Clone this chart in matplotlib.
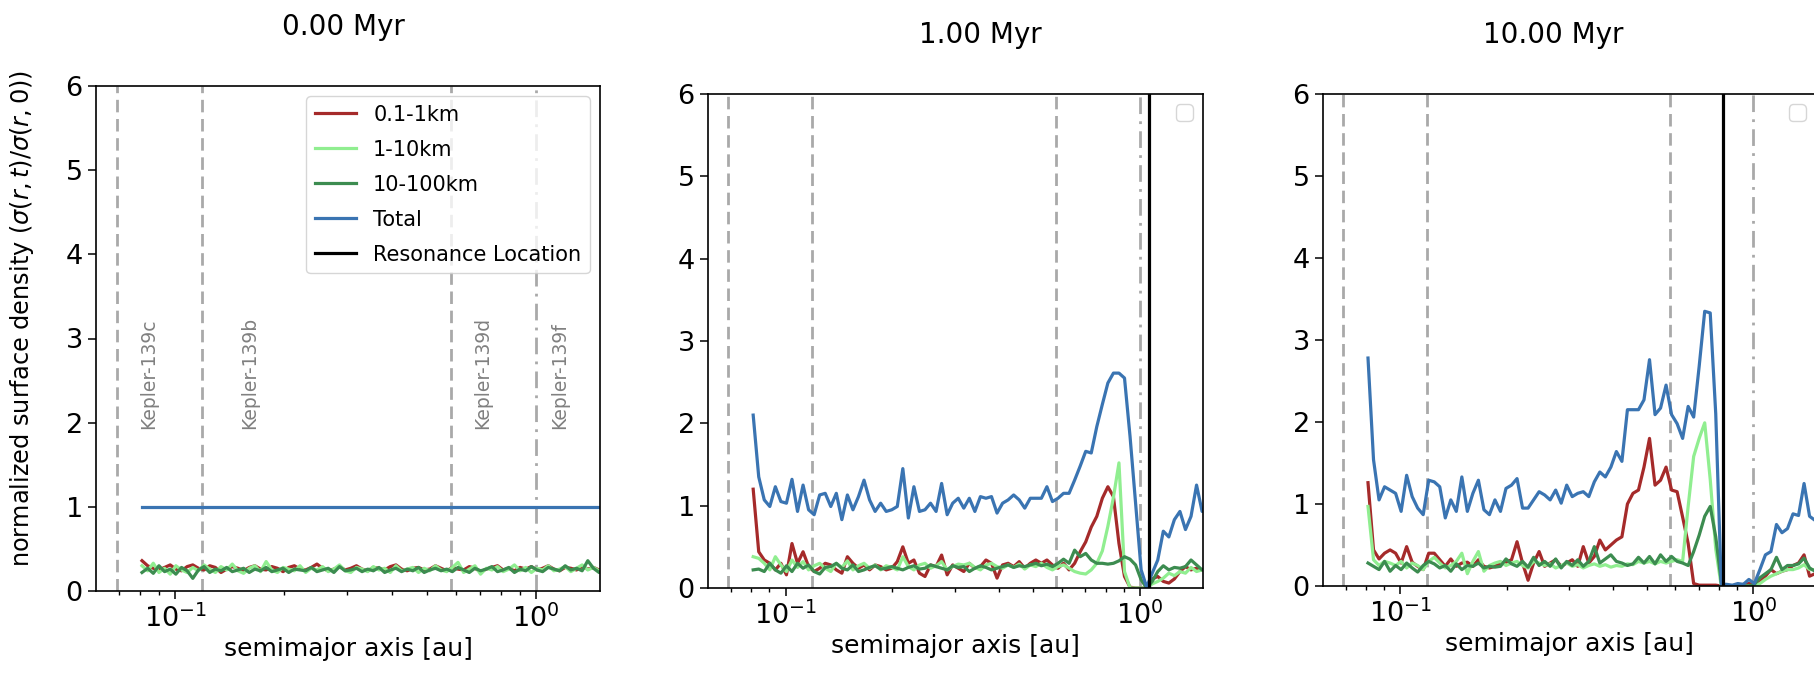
import numpy as np
import matplotlib
matplotlib.use("Agg")
import matplotlib.pyplot as plt

# ---------------- data ----------------
a_min, a_max, n_bins = 0.081, 1.55, 83
semimajor = np.geomspace(a_min, a_max, n_bins)

times = ["0.00 Myr", "1.00 Myr", "10.00 Myr"]
series_labels = ["0.1-1km", "1-10km", "10-100km", "Total"]
resonance_location = [1.8, 1.057, 0.82]

planet_names = ["Kepler-139c", "Kepler-139b", "Kepler-139d", "Kepler-139f"]
planet_a = [0.069, 0.1187, 0.58, 1.0]
planet_label_x = [0.0795, 0.151, 0.668, 1.093]

# t = 0.00 Myr
p1_small = [0.36,0.30,0.27,0.25,0.28,0.31,0.26,0.24,0.29,0.31,
            0.27,0.25,0.30,0.28,0.22,0.26,0.29,0.27,0.24,0.28,
            0.30,0.26,0.25,0.29,0.27,0.23,0.28,0.30,0.26,0.25,
            0.28,0.32,0.27,0.24,0.26,0.29,0.25,0.27,0.30,0.26,
            0.24,0.28,0.27,0.25,0.29,0.31,0.26,0.24,0.27,0.28,
            0.25,0.26,0.30,0.27,0.24,0.28,0.26,0.25,0.29,0.27,
            0.23,0.26,0.28,0.30,0.25,0.27,0.24,0.28,0.26,0.29,
            0.25,0.27,0.30,0.26,0.24,0.28,0.27,0.25,0.29,0.26,
            0.28,0.25,0.27]
p1_mid = [0.30,0.24,0.33,0.22,0.27,0.20,0.30,0.25,0.22,0.28,
          0.24,0.31,0.26,0.22,0.29,0.25,0.32,0.24,0.21,0.27,
          0.30,0.23,0.35,0.25,0.22,0.28,0.26,0.24,0.30,0.22,
          0.27,0.25,0.29,0.23,0.26,0.31,0.24,0.22,0.28,0.26,
          0.23,0.29,0.25,0.27,0.22,0.30,0.24,0.26,0.28,0.22,
          0.27,0.24,0.30,0.25,0.23,0.28,0.34,0.22,0.26,0.30,
          0.20,0.27,0.25,0.29,0.23,0.26,0.31,0.24,0.28,0.22,
          0.27,0.25,0.30,0.24,0.26,0.29,0.23,0.27,0.31,0.25,
          0.28,0.24,0.27]
p1_large = [0.22,0.27,0.21,0.30,0.23,0.26,0.20,0.28,0.24,0.15,
            0.25,0.29,0.22,0.26,0.24,0.28,0.23,0.25,0.27,0.22,
            0.26,0.24,0.28,0.23,0.25,0.27,0.22,0.26,0.25,0.24,
            0.28,0.23,0.25,0.27,0.22,0.29,0.24,0.25,0.27,0.23,
            0.26,0.24,0.28,0.22,0.25,0.27,0.23,0.26,0.24,0.28,
            0.22,0.25,0.27,0.24,0.26,0.23,0.28,0.25,0.22,0.27,
            0.24,0.26,0.29,0.23,0.25,0.28,0.22,0.26,0.24,0.29,
            0.25,0.23,0.28,0.26,0.24,0.30,0.25,0.27,0.24,0.36,
            0.27,0.22,0.25]
p1_total = [1.0,1.0,1.0,1.0,1.0,1.0,1.0,1.0,1.0,1.0,
            1.0,1.0,1.0,1.0,1.0,1.0,1.0,1.0,1.0,1.0,
            1.0,1.0,1.0,1.0,1.0,1.0,1.0,1.0,1.0,1.0,
            1.0,1.0,1.0,1.0,1.0,1.0,1.0,1.0,1.0,1.0,
            1.0,1.0,1.0,1.0,1.0,1.0,1.0,1.0,1.0,1.0,
            1.0,1.0,1.0,1.0,1.0,1.0,1.0,1.0,1.0,1.0,
            1.0,1.0,1.0,1.0,1.0,1.0,1.0,1.0,1.0,1.0,
            1.0,1.0,1.0,1.0,1.0,1.0,1.0,1.0,1.0,1.0,
            1.0,1.0,1.0]

# t = 1.00 Myr
p2_total = [2.10,1.35,1.07,0.99,1.23,1.05,1.03,1.32,0.93,1.25,
            0.95,0.89,1.13,1.15,0.99,1.15,0.83,1.13,0.95,1.11,
            1.31,1.07,0.93,1.03,0.93,0.95,0.99,1.45,0.85,1.23,
            0.93,0.95,1.03,0.93,1.27,0.89,1.03,1.09,0.97,1.09,
            0.93,1.11,1.09,1.11,0.91,1.03,1.07,1.13,1.07,0.97,
            1.09,1.09,1.09,1.23,1.05,1.09,1.15,1.15,1.31,1.48,
            1.66,1.64,1.96,2.23,2.49,2.61,2.61,2.55,1.84,1.03,
            0.22,0.01,0.18,0.34,0.69,0.62,0.83,0.93,0.71,0.87,
            1.25,0.93,1.00]
p2_small = [1.20,0.44,0.34,0.30,0.22,0.30,0.16,0.54,0.30,0.44,
            0.26,0.20,0.24,0.30,0.28,0.22,0.18,0.38,0.30,0.24,
            0.28,0.22,0.28,0.26,0.22,0.24,0.32,0.50,0.30,0.34,
            0.18,0.14,0.28,0.26,0.40,0.16,0.28,0.24,0.20,0.30,
            0.24,0.26,0.34,0.30,0.12,0.28,0.30,0.26,0.32,0.24,
            0.30,0.34,0.30,0.34,0.28,0.24,0.30,0.22,0.30,0.44,
            0.56,0.74,0.87,1.09,1.23,1.11,0.54,0.14,0.01,0.00,
            0.00,0.00,0.11,0.14,0.08,0.06,0.11,0.20,0.26,0.22,
            0.24,0.22,0.22]
p2_mid = [0.38,0.36,0.30,0.22,0.38,0.28,0.20,0.34,0.25,0.32,
          0.22,0.27,0.30,0.24,0.20,0.30,0.25,0.33,0.22,0.27,
          0.30,0.24,0.28,0.22,0.27,0.25,0.22,0.38,0.26,0.22,
          0.28,0.30,0.24,0.27,0.32,0.22,0.26,0.29,0.28,0.30,
          0.25,0.22,0.28,0.30,0.26,0.24,0.28,0.25,0.29,0.23,
          0.28,0.26,0.30,0.25,0.22,0.26,0.28,0.24,0.20,0.18,
          0.17,0.22,0.30,0.45,0.75,1.10,1.52,0.20,0.00,0.00,
          0.00,0.00,0.05,0.08,0.12,0.18,0.15,0.20,0.18,0.25,
          0.20,0.22,0.20]
p2_large = [0.22,0.23,0.20,0.30,0.22,0.18,0.27,0.20,0.30,0.24,
            0.28,0.20,0.17,0.25,0.26,0.30,0.24,0.22,0.28,0.20,
            0.22,0.25,0.27,0.23,0.24,0.26,0.24,0.22,0.25,0.27,
            0.23,0.24,0.28,0.26,0.24,0.22,0.27,0.25,0.26,0.20,
            0.24,0.27,0.25,0.22,0.24,0.26,0.28,0.25,0.27,0.26,
            0.28,0.30,0.27,0.29,0.26,0.30,0.35,0.30,0.46,0.38,
            0.42,0.34,0.30,0.30,0.29,0.30,0.33,0.38,0.35,0.28,
            0.10,0.00,0.08,0.20,0.27,0.22,0.25,0.24,0.26,0.34,
            0.28,0.22,0.25]

# t = 10.00 Myr
p3_total = [2.78,1.54,1.05,1.21,1.17,1.13,0.91,1.35,1.09,0.95,
            0.87,1.29,1.27,1.21,0.83,1.05,0.91,1.33,0.91,1.13,
            1.29,0.93,0.87,1.05,0.91,1.19,1.23,1.31,0.95,0.95,
            1.05,1.15,1.11,1.05,1.17,1.01,1.23,1.09,1.13,1.15,
            1.09,1.27,1.39,1.33,1.45,1.64,1.52,2.15,2.15,2.15,
            2.27,2.76,2.09,2.17,2.45,2.09,1.98,1.80,2.19,2.06,
            2.68,3.35,3.33,2.10,0.02,0.02,0.01,0.03,0.02,0.08,
            0.03,0.20,0.38,0.42,0.75,0.65,0.70,0.88,0.86,1.25,
            0.85,0.80,0.90]
p3_small = [1.26,0.44,0.33,0.40,0.44,0.40,0.28,0.48,0.29,0.24,
            0.20,0.40,0.40,0.32,0.24,0.33,0.24,0.28,0.29,0.24,
            0.32,0.24,0.22,0.24,0.28,0.29,0.32,0.54,0.28,0.07,
            0.28,0.42,0.24,0.28,0.32,0.24,0.28,0.32,0.24,0.48,
            0.28,0.36,0.56,0.44,0.50,0.56,0.60,1.00,1.13,1.17,
            1.45,1.80,1.23,1.29,1.45,1.17,1.15,0.84,0.52,0.03,
            0.01,0.01,0.01,0.01,0.00,0.00,0.00,0.01,0.02,0.03,
            0.02,0.05,0.12,0.20,0.15,0.18,0.20,0.25,0.28,0.38,
            0.12,0.15,0.15]
p3_mid = [0.97,0.32,0.25,0.30,0.28,0.25,0.30,0.22,0.28,0.25,
          0.20,0.30,0.35,0.28,0.22,0.25,0.30,0.40,0.15,0.30,
          0.42,0.18,0.25,0.28,0.30,0.25,0.28,0.30,0.25,0.22,
          0.30,0.28,0.25,0.27,0.22,0.25,0.28,0.24,0.26,0.22,
          0.25,0.27,0.24,0.26,0.23,0.25,0.24,0.27,0.26,0.30,
          0.28,0.30,0.27,0.30,0.28,0.30,0.32,0.30,0.97,1.58,
          1.80,1.99,1.30,0.45,0.00,0.00,0.00,0.00,0.00,0.00,
          0.00,0.03,0.08,0.12,0.15,0.18,0.20,0.20,0.22,0.26,
          0.20,0.20,0.20]
p3_large = [0.28,0.24,0.20,0.30,0.18,0.25,0.20,0.28,0.22,0.17,
            0.25,0.30,0.27,0.22,0.25,0.18,0.27,0.20,0.25,0.24,
            0.28,0.22,0.24,0.23,0.24,0.33,0.27,0.24,0.30,0.23,
            0.35,0.25,0.30,0.24,0.33,0.22,0.30,0.25,0.32,0.24,
            0.30,0.48,0.28,0.33,0.38,0.30,0.28,0.25,0.27,0.35,
            0.28,0.36,0.27,0.38,0.30,0.36,0.30,0.28,0.25,0.42,
            0.62,0.85,0.97,0.60,0.05,0.00,0.00,0.00,0.00,0.00,
            0.02,0.10,0.15,0.20,0.35,0.20,0.25,0.25,0.27,0.34,
            0.22,0.18,0.20]

panels = [
    (p1_small, p1_mid, p1_large, p1_total),
    (p2_small, p2_mid, p2_large, p2_total),
    (p3_small, p3_mid, p3_large, p3_total),
]

# ---------------- style ----------------
colors = ["#a52a2a", "#90ee90", "#3c8c50", "#3a74b2"]
W, H = 1814, 681
# axes boxes in pixels: left, top, right, bottom
boxes = [(96, 86, 600, 591), (708, 94, 1203, 588), (1323, 94, 1816, 586)]
title_x = [0.49, 0.55, 0.467]

fig = plt.figure(figsize=(W / 100, H / 100), dpi=100)

for k, (box, series) in enumerate(zip(boxes, panels)):
    l, t, r, b = box
    ax = fig.add_axes([l / W, (H - b) / H, (r - l) / W, (b - t) / H])
    ax.set_xscale("log")

    for j, (pa, name) in enumerate(zip(planet_a, planet_names)):
        ls = (0, (6, 2.6, 1, 2.6)) if name.endswith("f") else (0, (4.5, 2.4))
        ax.axvline(pa, color="darkgray", lw=2, ls=ls, zorder=1)

    for vals, col, lab in zip(series, colors, series_labels):
        ax.plot(semimajor, vals, color=col, lw=2.3, label=lab, zorder=2)
    ax.axvline(resonance_location[k], color="black", lw=2.3,
               label="Resonance Location", zorder=3)

    ax.set_xlim(0.0604, 1.504)
    ax.set_ylim(0, 6)
    ax.set_yticks([0, 1, 2, 3, 4, 5, 6])
    ax.tick_params(axis="both", which="major", labelsize=19.5, length=6, width=1.1)
    ax.tick_params(axis="x", which="minor", length=3.2, width=1.0)
    for sp in ax.spines.values():
        sp.set_linewidth(1.2)
    ax.set_xlabel("semimajor axis [au]", fontsize=18, labelpad=3)
    ax.set_title(times[k], fontsize=20, pad=37, x=title_x[k])

    if k == 0:
        ax.set_ylabel(r"normalized surface density ($\sigma(r,t)/\sigma(r,0)$)",
                      fontsize=17.3)
        ax.yaxis.set_label_coords(-0.12, 0.54)
        for lx, name in zip(planet_label_x, planet_names):
            ax.text(lx, 1.93, name, rotation=90, color="gray", fontsize=13.5,
                    ha="left", va="bottom")
        ax.legend(loc="upper right", fontsize=15, labelspacing=0.72)
    else:
        ax.legend(handles=[], loc="upper right", fontsize=15)

fig.savefig("out.png", dpi=100)
